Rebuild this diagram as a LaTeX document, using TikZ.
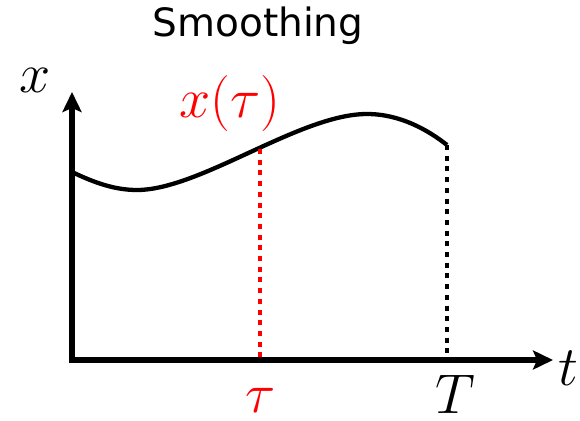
\documentclass[tikz,border=0pt]{standalone}
\usepackage{graphicx}
\usepackage{fontspec}
\newfontfamily\titlefont{DejaVu Sans}
\usetikzlibrary{arrows.meta}
\newcommand{\plotlbl}[1]{\scalebox{2.25}{\Huge$#1$}}
\tikzset{
  axis/.style={line width=5.3pt, line join=miter, {Stealth[length=20pt,width=19pt,inset=4pt]}-{Stealth[length=20pt,width=19pt,inset=4pt]}},
  curve/.style={line width=4.3pt},
  guide/.style={line width=4.8pt, dash pattern=on 5pt off 5.7pt},
  mathlbl/.style={anchor=base, inner sep=0pt},
  title/.style={anchor=base, inner sep=0pt, font=\titlefont\fontsize{39}{44}\selectfont}
}
\begin{document}
\begin{tikzpicture}[x=1pt, y=-1pt]
\useasboundingbox (0,0) rectangle (580,420);
\coordinate (O) at (72,360);
\coordinate (ytip) at (72,92);
\coordinate (xtip) at (553,360);
\coordinate (c0) at (72,172);
\coordinate (cmin) at (137,190);
\coordinate (cmax) at (367,114);
\coordinate (cend) at (447,145);
\coordinate (ctau) at (260,149);
\coordinate (btau) at (260,358);
\coordinate (bT) at (447,358);
\node[title] (ttl) at (258,37) {Smoothing};
\draw[axis] (ytip) -- (O) -- (xtip);
\draw[curve] (c0) .. controls (95,183) and (115,190) .. (cmin)
  .. controls (200,190) and (300,114) .. (cmax)
  .. controls (400,114) and (428,130) .. (cend);
\draw[guide, red] (ctau) -- (btau);
\draw[guide, black] (cend) -- (bT);
\node[mathlbl] (lx) at (35,92) {\plotlbl{x}};
\node[mathlbl] (lt) at (568,385) {\plotlbl{t}};
\node[mathlbl] (lT) at (455,413) {\plotlbl{T}};
\node[mathlbl, text=red] (ltau) at (261,412) {\plotlbl{\tau}};
\node[mathlbl, text=red] (lxtau) at (230,117) {\plotlbl{x(\tau)}};
\end{tikzpicture}
\end{document}
